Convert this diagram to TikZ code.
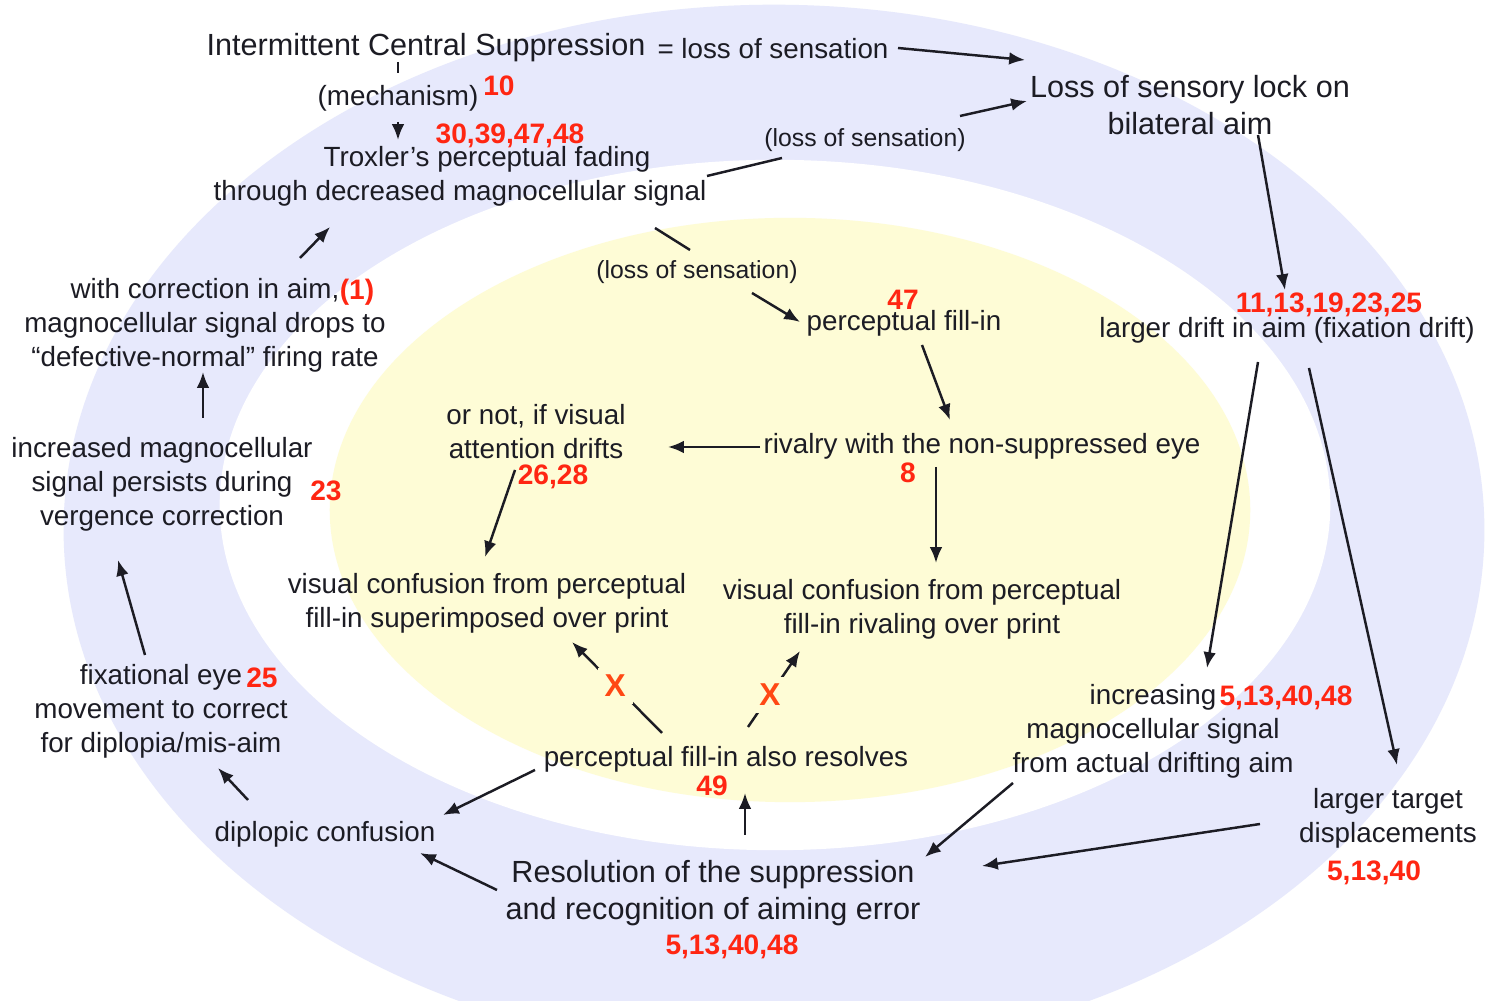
\documentclass[tikz,border=0pt]{standalone}
\usepackage{fontspec}
\setmainfont{Liberation Sans}
\usetikzlibrary{arrows.meta}
\definecolor{ringblue}{RGB}{231,233,252}
\definecolor{coreyellow}{RGB}{254,252,214}
\definecolor{refred}{RGB}{255,38,18}
\definecolor{crossred}{RGB}{255,72,20}
\definecolor{ink}{RGB}{28,28,36}
\tikzset{
  txt/.style={text=ink, align=center, inner sep=1pt, font=\fontsize{7.9}{9.7}\selectfont},
  bigtxt/.style={txt, font=\fontsize{8.7}{10.5}\selectfont},
  smalltxt/.style={txt, font=\fontsize{7.05}{8.5}\selectfont},
  refno/.style={text=refred, inner sep=0pt, font=\fontsize{8}{9}\selectfont\bfseries},
  link/.style={draw=ink, line width=0.7pt, -{Latex[length=4.5pt,width=3.6pt]}},
  bare/.style={draw=ink, line width=0.7pt},
  xmark/.style={text=crossred, fill=coreyellow, inner sep=2pt, font=\fontsize{9}{10}\selectfont\bfseries},
}
\begin{document}
\begin{tikzpicture}[x=0.01cm,y=-0.01cm]
\useasboundingbox (0,0) rectangle (1496,1001);
\fill[white] (0,0) rectangle (1496,1001);
\begin{scope}
\clip (0,0) rectangle (1496,1001);
\fill[ringblue] (774,530) ellipse (7.1cm and 5.25cm);
\fill[white] (775,505) ellipse (5.55cm and 3.45cm);
\fill[coreyellow] (790,510) ellipse (4.6cm and 2.92cm);
\end{scope}

% outer ring
\node[bigtxt] (ics) at (426,48) {Intermittent Central Suppression};
\node[txt] (los) at (773,49) {= loss of sensation};
\node[txt] (mech) at (398,98) {(mechanism)};
\node[refno] at (499,86) {10};
\node[refno] at (510,136) {30,39,47,48};
\node[txt] (trox) at (460,176) {\hspace*{5.4mm}Troxler’s perceptual fading\\through decreased magnocellular signal};
\node[smalltxt] (lossA) at (865,140) {(loss of sensation)};
\node[bigtxt] (lock) at (1190,105) {Loss of sensory lock on\\bilateral aim};
\node[refno] at (1329,305) {11,13,19,23,25};
\node[txt] (drift) at (1287,330) {larger drift in aim (fixation drift)};
\node[txt] (incr) at (1153,731) {increasing\\magnocellular signal\\from actual drifting aim};
\node[refno] at (1286,698) {5,13,40,48};
\node[txt] (target) at (1388,818) {larger target\\displacements};
\node[refno] at (1374,873) {5,13,40};
\node[bigtxt] (resol) at (713,893) {Resolution of the suppression\\and recognition of aiming error};
\node[refno] at (732,947) {5,13,40,48};
\node[txt] (dipl) at (325,834) {diplopic confusion};
\node[txt] (fix) at (161,711) {fixational eye\\movement to correct\\for diplopia/mis-aim};
\node[refno] at (262,678) {25};
\node[txt] (inc) at (162,484) {increased magnocellular\\signal persists during\\vergence correction};
\node[refno] at (326,491) {23};
\node[txt] (corr) at (205,325) {with correction in aim,\\magnocellular signal drops to\\“defective-normal” firing rate};
\node[refno] at (357,292) {(1)};

% inner field
\node[smalltxt] (lossB) at (697,272) {(loss of sensation)};
\node[txt] (fill) at (904,323) {perceptual fill-in};
\node[refno] at (903,300) {47};
\node[txt] (rival) at (982,446) {rivalry with the non-suppressed eye};
\node[refno] at (908,473) {8};
\node[txt] (ornot) at (536,432) {or not, if visual\\attention drifts};
\node[refno] at (553,477) {26,28};
\node[txt] (visL) at (487,603) {visual confusion from perceptual\\fill-in superimposed over print};
\node[txt] (visR) at (922,609) {visual confusion from perceptual\\fill-in rivaling over print};
\node[txt] (resolves) at (726,759) {perceptual fill-in also resolves};
\node[refno] at (712,786) {49};

% connectors
\draw[bare] ([shift={(-28,14)}]ics.center) -- ([shift={(0,-25)}]mech.center);
\draw[link] ([shift={(0,24)}]mech.center) -- ([shift={(-62,-36)}]trox.center);
\draw[link] ([shift={(125,-1)}]los.center) -- ([shift={(-165,-45)}]lock.center);
\draw[bare] ([shift={(247,0)}]trox.center) -- ([shift={(-83,18)}]lossA.center);
\draw[link] ([shift={(95,-24)}]lossA.center) -- ([shift={(-163,-4)}]lock.center);
\draw[link] ([shift={(68,30)}]lock.center) -- ([shift={(-2,-40)}]drift.center);
\draw[bare] ([shift={(195,52)}]trox.center) -- ([shift={(-7,-22)}]lossB.center);
\draw[link] ([shift={(55,21)}]lossB.center) -- ([shift={(-104,-1)}]fill.center);
\draw[link] ([shift={(18,22)}]fill.center) -- ([shift={(-32,-26)}]rival.center);
\draw[link] ([shift={(-222,1)}]rival.center) -- ([shift={(132,15)}]ornot.center);
\draw[link] ([shift={(-21,38)}]ornot.center) -- ([shift={(-2,-46)}]visL.center);
\draw[link] ([shift={(-46,21)}]rival.center) -- ([shift={(14,-46)}]visR.center);
\draw[link] ([shift={(-64,-26)}]resolves.center) -- node[xmark,pos=0.52] {X} ([shift={(85,39)}]visL.center);
\draw[link] ([shift={(22,-32)}]resolves.center) -- node[xmark,pos=0.42] {X} ([shift={(-122,42)}]visR.center);
\draw[link] ([shift={(32,-58)}]resol.center) -- ([shift={(19,34)}]resolves.center);
\draw[link] ([shift={(-191,11)}]resolves.center) -- ([shift={(118,-19)}]dipl.center);
\draw[link] ([shift={(-216,-3)}]resol.center) -- ([shift={(95,19)}]dipl.center);
\draw[link] ([shift={(-77,-34)}]dipl.center) -- ([shift={(57,57)}]fix.center);
\draw[link] ([shift={(-16,-56)}]fix.center) -- ([shift={(-44,76)}]inc.center);
\draw[link] ([shift={(41,-66)}]inc.center) -- ([shift={(-2,47)}]corr.center);
\draw[link] ([shift={(95,-67)}]corr.center) -- ([shift={(-130,51)}]trox.center);
\draw[link] ([shift={(-29,32)}]drift.center) -- ([shift={(54,-63)}]incr.center);
\draw[link] ([shift={(22,38)}]drift.center) -- ([shift={(9,-53)}]target.center);
\draw[link] ([shift={(-140,52)}]incr.center) -- ([shift={(212,-36)}]resol.center);
\draw[link] ([shift={(-128,6)}]target.center) -- ([shift={(269,-27)}]resol.center);
\end{tikzpicture}
\end{document}
